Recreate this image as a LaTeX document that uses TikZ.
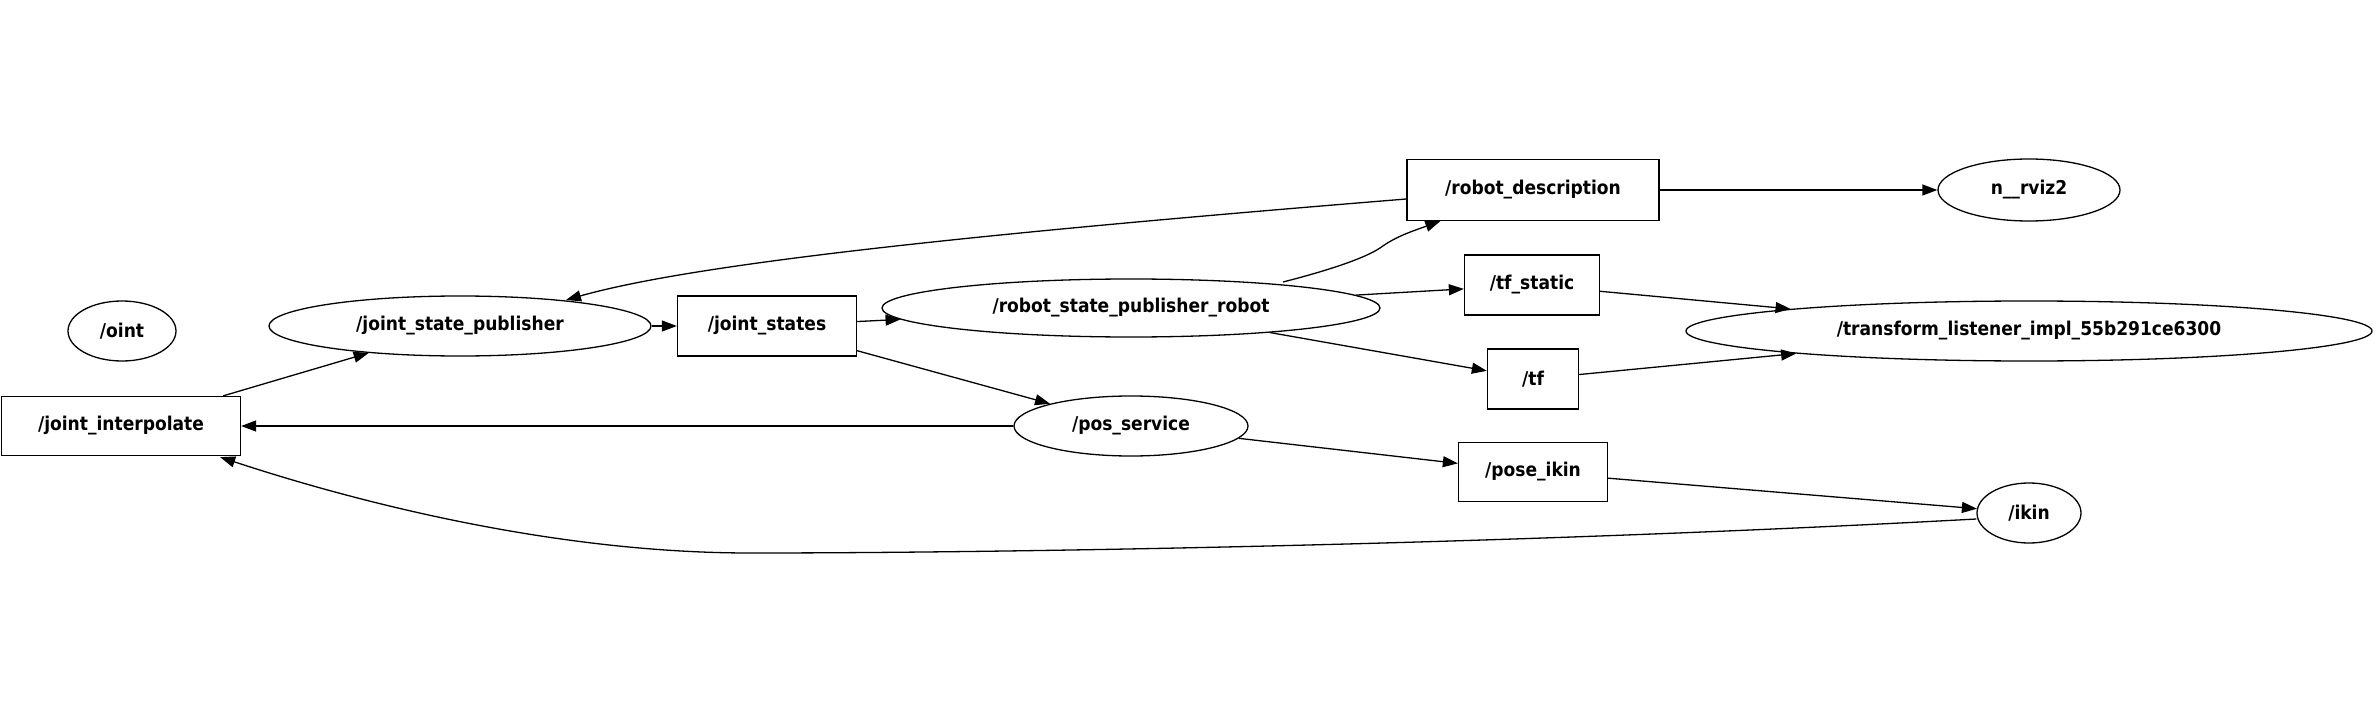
\documentclass[tikz,border=0pt]{standalone}
\usepackage{fontspec}
\setmainfont{DejaVu Sans Condensed}[BoldFont={DejaVu Sans Condensed Bold}]
\usetikzlibrary{shapes.geometric,arrows.meta,calc}
\begin{document}
\begin{tikzpicture}[x=1pt,y=-1pt,
  every node/.style={font=\fontsize{19}{22}\selectfont\bfseries, inner sep=0pt},
  topic/.style={draw, line width=1.3pt, rectangle},
  nodeell/.style={draw, line width=1.3pt, ellipse},
  edge/.style={line width=1.3pt, -{Triangle[length=15pt,width=11pt]}}]
\useasboundingbox (0,0) rectangle (2378,722);
% nodes
\node[nodeell, minimum width=108, minimum height=60] (oint) at (122,331) {/oint};
\node[nodeell, minimum width=382, minimum height=60] (jsp) at (460,326) {/joint\_state\_publisher};
\node[topic, minimum width=179, minimum height=60] (js) at (767,326) {/joint\_states};
\node[nodeell, minimum width=498, minimum height=58] (rspr) at (1131,308) {/robot\_state\_publisher\_robot};
\node[topic, minimum width=252, minimum height=61] (rd) at (1533,190) {/robot\_description};
\node[nodeell, minimum width=182, minimum height=62] (rviz) at (2029,190) {n\_\_rviz2};
\node[topic, minimum width=135, minimum height=60] (tfs) at (1532,285) {/tf\_static};
\node[topic, minimum width=91, minimum height=60] (tf) at (1533,379) {/tf};
\node[nodeell, minimum width=686, minimum height=60] (tl) at (2029,331) {/transform\_listener\_impl\_55b291ce6300};
\node[topic, minimum width=239, minimum height=59] (ji) at (121,426) {/joint\_interpolate};
\node[nodeell, minimum width=234, minimum height=60] (ps) at (1131,426) {/pos\_service};
\node[topic, minimum width=149, minimum height=59] (pik) at (1533,472) {/pose\_ikin};
\node[nodeell, minimum width=104, minimum height=60] (ikin) at (2029,513) {/ikin};
% straight edges
\draw[edge] (ji) -- (jsp);
\draw[edge] (jsp) -- (js);
\draw[edge] (js) -- (rspr);
\draw[edge] (js) -- (ps);
\draw[edge] (rd) -- (rviz);
\draw[edge] (rspr) -- (tfs);
\draw[edge] (rspr) -- (tf);
\draw[edge] (tfs) -- (tl);
\draw[edge] (tf) -- (tl);
\draw[edge] (ps) -- (ji);
\draw[edge] (ps) -- (pik);
\draw[edge] (pik) -- (ikin);
% curved edges
\draw[edge] ($(rd.west)+(0,9)$) .. controls (1000,232) and (700,262) .. ($(jsp.center)+(106,-26)$);
\draw[edge] ($(rspr.center)+(152,-26)$) .. controls (1330,270) and (1365,258) .. (1380,248)
   .. controls (1395,237) and (1410,232) .. ($(rd.south west)+(34,0)$);
\draw[edge] ($(ikin.west)+(0,6)$) .. controls (1500,545) and (1000,553) .. (750,553)
   .. controls (550,553) and (350,500) .. ($(ji.south east)+(-21,1)$);
\end{tikzpicture}
\end{document}
